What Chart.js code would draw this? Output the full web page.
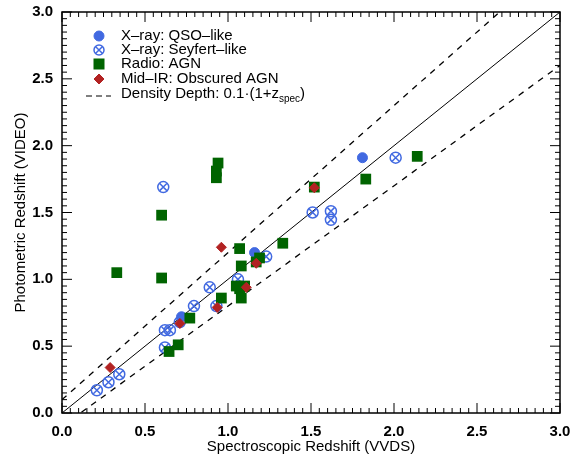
<!DOCTYPE html>
<html>
<head>
<meta charset="utf-8">
<script src="https://cdn.jsdelivr.net/npm/chart.js@4.4.0/dist/chart.umd.min.js"></script>
<style>
  html, body { margin: 0; padding: 0; background: #fff; }
</style>
</head>
<body>
<canvas id="myChart" width="581" height="454"></canvas>
<script>
// X-ray: QSO-like  (spec z, phot z)
const qsoX = [0.72, 1.16, 1.81];
const qsoY = [0.72, 1.20, 1.91];

// X-ray: Seyfert-like
const seyX = [0.21, 0.28, 0.345, 0.62, 0.65, 0.62, 0.71, 0.795, 0.89, 0.93, 1.06, 1.23, 2.01, 1.51, 1.62, 1.62, 0.61];
const seyY = [0.17, 0.23, 0.29, 0.62, 0.62, 0.49, 0.68, 0.80, 0.94, 0.80, 1.00, 1.17, 1.91, 1.50, 1.51, 1.445, 1.69];

// Radio: AGN
const radX = [0.33, 0.60, 0.60, 0.93, 0.93, 0.94, 1.07, 1.33, 1.08, 1.19, 1.17, 1.05, 1.07, 1.08, 1.10, 0.96, 0.77, 0.645, 0.70, 2.14, 1.83, 1.52];
const radY = [1.05, 1.48, 1.01, 1.76, 1.81, 1.87, 1.23, 1.27, 1.10, 1.16, 1.13, 0.95, 0.93, 0.86, 0.95, 0.86, 0.71, 0.46, 0.51, 1.92, 1.75, 1.69];

// Mid-IR: Obscured AGN
const irX = [0.29, 0.71, 0.96, 1.17, 1.11, 0.935, 1.52];
const irY = [0.34, 0.67, 1.24, 1.12, 0.94, 0.79, 1.685];

// one-to-one line and density depth 0.1*(1+z) either side
const lineZ = [0, 3];
const depth = 0.1;

const tickVals = [0, 0.5, 1, 1.5, 2, 2.5, 3];

const BLUE = '#4169e1', GREEN = '#006400', RED = '#b22222';
const FONT = "'Liberation Sans', Arial, sans-serif";

function pts(xs, ys) { return xs.map((v, i) => ({x: v, y: ys[i]})); }

const frameTicks = {
  id: 'frameTicks',
  afterDraw(chart) {
    const ctx = chart.ctx, a = chart.chartArea;
    const x = chart.scales.x, y = chart.scales.y;
    ctx.save();
    ctx.strokeStyle = '#000';
    ctx.lineWidth = 1;
    for (let i = 0; i <= 60; i++) {
      const v = i / 20;
      const len = i % 10 === 0 ? 10 : 5;
      const px = x.getPixelForValue(v), py = y.getPixelForValue(v);
      ctx.beginPath();
      ctx.moveTo(px, a.bottom); ctx.lineTo(px, a.bottom - len);
      ctx.moveTo(px, a.top); ctx.lineTo(px, a.top + len);
      ctx.moveTo(a.left, py); ctx.lineTo(a.left + len, py);
      ctx.moveTo(a.right, py); ctx.lineTo(a.right - len, py);
      ctx.stroke();
    }
    ctx.lineWidth = 1.5;
    ctx.strokeRect(a.left, a.top, a.right - a.left, a.bottom - a.top);

    // legend
    const H = Chart.helpers;
    const sx = 99, tx = 121;
    const rows = [36, 50, 64, 79, 96];
    ctx.fillStyle = BLUE; ctx.strokeStyle = BLUE; ctx.lineWidth = 1;
    H.drawPoint(ctx, {pointStyle: 'circle', radius: 5, borderWidth: 1}, sx, rows[0]);
    ctx.lineWidth = 1.5; ctx.fillStyle = 'rgba(0,0,0,0)';
    H.drawPoint(ctx, {pointStyle: 'circle', radius: 5, borderWidth: 1.5}, sx, rows[1]);
    H.drawPoint(ctx, {pointStyle: 'crossRot', radius: 5, borderWidth: 1.5}, sx, rows[1]);
    ctx.fillStyle = GREEN;
    ctx.fillRect(sx - 5.5, rows[2] - 5.5, 11, 11);
    ctx.fillStyle = RED; ctx.strokeStyle = RED; ctx.lineWidth = 1;
    H.drawPoint(ctx, {pointStyle: 'rectRot', radius: 5, borderWidth: 1}, sx, rows[3]);
    ctx.strokeStyle = '#000'; ctx.lineWidth = 1.2;
    ctx.setLineDash([6, 4]);
    ctx.beginPath(); ctx.moveTo(86, rows[4]); ctx.lineTo(111, rows[4]); ctx.stroke();
    ctx.setLineDash([]);

    ctx.fillStyle = '#000';
    ctx.font = '15px ' + FONT;
    ctx.textBaseline = 'middle';
    ctx.textAlign = 'left';
    ctx.fillText('X\u2013ray: QSO\u2013like', tx, rows[0]);
    ctx.fillText('X\u2013ray: Seyfert\u2013like', tx, rows[1]);
    ctx.fillText('Radio: AGN', tx, rows[2]);
    ctx.fillText('Mid\u2013IR: Obscured AGN', tx, rows[3]);
    const t1 = 'Density Depth: 0.1\u00b7(1+z';
    ctx.fillText(t1, tx, rows[4] - 2);
    let w = ctx.measureText(t1).width;
    ctx.font = '10px ' + FONT;
    ctx.fillText('spec', tx + w, rows[4] + 3);
    w += ctx.measureText('spec').width;
    ctx.font = '15px ' + FONT;
    ctx.fillText(')', tx + w, rows[4] - 2);
    ctx.restore();
  }
};

const ctx = document.getElementById('myChart').getContext('2d');

const mychart = new Chart(ctx, {
  type: 'scatter',
  data: {
    datasets: [
      { label: 'Mid-IR: Obscured AGN', data: pts(irX, irY), pointStyle: 'rectRot', pointRadius: 5,
        backgroundColor: RED, borderColor: RED, borderWidth: 1 },
      { label: 'Radio: AGN', data: pts(radX, radY), pointStyle: 'rect', pointRadius: 7.6,
        backgroundColor: GREEN, borderColor: GREEN, borderWidth: 0 },
      { label: 'X-ray: QSO-like', data: pts(qsoX, qsoY), pointStyle: 'circle', pointRadius: 5,
        backgroundColor: BLUE, borderColor: BLUE, borderWidth: 1 },
      { label: 'X-ray: Seyfert-like', data: pts(seyX, seyY), pointStyle: 'crossRot', pointRadius: 5,
        backgroundColor: 'rgba(0,0,0,0)', borderColor: BLUE, borderWidth: 1.5 },
      { label: 'Seyfert ring', data: pts(seyX, seyY), pointStyle: 'circle', pointRadius: 5.5,
        backgroundColor: 'rgba(0,0,0,0)', borderColor: BLUE, borderWidth: 1.5 },
      { type: 'line', label: '1:1', data: lineZ.map(z => ({x: z, y: z})), showLine: true,
        borderColor: '#000', borderWidth: 1, pointRadius: 0, fill: false },
      { type: 'line', label: 'upper', data: lineZ.map(z => ({x: z, y: z + depth * (1 + z)})), showLine: true,
        borderColor: '#000', borderWidth: 1.3, borderDash: [6, 6], pointRadius: 0, fill: false },
      { type: 'line', label: 'lower', data: lineZ.map(z => ({x: z, y: z - depth * (1 + z)})), showLine: true,
        borderColor: '#000', borderWidth: 1.3, borderDash: [6, 6], pointRadius: 0, fill: false }
    ]
  },
  options: {
    responsive: false,
    animation: false,
    layout: { padding: { left: 0, right: 21, top: 12, bottom: 0 } },
    plugins: { legend: { display: false }, tooltip: { enabled: false } },
    scales: {
      x: {
        type: 'linear', min: 0, max: 3,
        afterBuildTicks: s => { s.ticks = tickVals.map(v => ({value: v})); },
        afterFit: s => { s.height = 41; s.paddingLeft = 0; s.paddingRight = 0; s.paddingTop = 0; s.paddingBottom = 0; },
        ticks: { callback: v => v.toFixed(1), color: '#000', padding: 10,
                 font: { family: FONT, size: 15, weight: 'bold' }, maxRotation: 0 },
        grid: { display: false, drawTicks: false },
        border: { display: false },
        title: { display: true, text: 'Spectroscopic Redshift (VVDS)', color: '#000',
                 font: { family: FONT, size: 15 }, padding: { top: 0, bottom: -2 } }
      },
      y: {
        type: 'linear', min: 0, max: 3,
        afterBuildTicks: s => { s.ticks = tickVals.map(v => ({value: v})); },
        afterFit: s => { s.width = 62; s.paddingLeft = 0; s.paddingRight = 0; s.paddingTop = 0; s.paddingBottom = 0; },
        ticks: { callback: v => v.toFixed(1), color: '#000', padding: 9,
                 font: { family: FONT, size: 15, weight: 'bold' } },
        grid: { display: false, drawTicks: false },
        border: { display: false },
        title: { display: true, text: 'Photometric Redshift (VIDEO)', color: '#000',
                 font: { family: FONT, size: 15 }, padding: { top: 12, bottom: 0 } }
      }
    }
  },
  plugins: [frameTicks]
});
</script>
</body>
</html>
